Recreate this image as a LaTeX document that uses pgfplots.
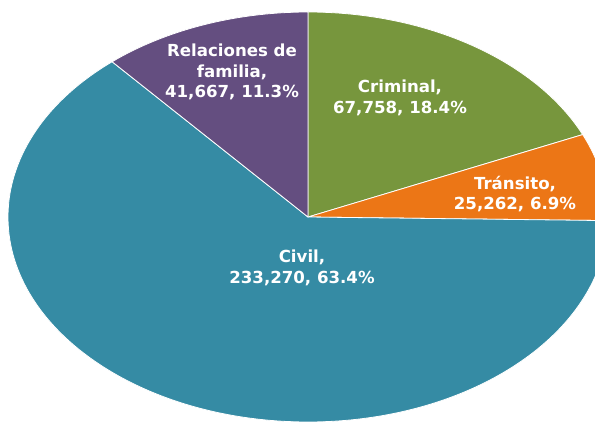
\documentclass[border=0pt]{standalone}
\usepackage{pgfplots}
\usepackage{pgfplotstable}
\usepackage{fontspec}
\setmainfont{DejaVu Sans}
\pgfplotsset{compat=1.18}
\definecolor{cFam}{RGB}{100,78,128}
\definecolor{cCrim}{RGB}{119,150,61}
\definecolor{cTran}{RGB}{236,118,22}
\definecolor{cCiv}{RGB}{53,139,164}
\pgfplotstableread{
label value
Criminal 67758
Transito 25262
Civil 233270
Familia 41667
}\piedata
\begin{document}
\begin{tikzpicture}
\pgfplotstablegetelem{0}{value}\of\piedata \edef\vA{\pgfplotsretval}
\pgfplotstablegetelem{1}{value}\of\piedata \edef\vB{\pgfplotsretval}
\pgfplotstablegetelem{2}{value}\of\piedata \edef\vC{\pgfplotsretval}
\pgfplotstablegetelem{3}{value}\of\piedata \edef\vD{\pgfplotsretval}
\edef\tot{\fpeval{\vA+\vB+\vC+\vD}}
\edef\aA{90}
\edef\aB{\fpeval{round(\aA-360*\vA/\tot,3)}}
\edef\aC{\fpeval{round(\aB-360*\vB/\tot,3)}}
\edef\aD{\fpeval{round(\aC-360*\vC/\tot,3)}}
\edef\aE{\fpeval{round(\aD-360*\vD/\tot,3)}}
\begin{axis}[
  hide axis, x=1pt, y=1pt, scale only axis,
  xmin=0, xmax=595, ymin=0, ymax=423,
  enlargelimits=false, clip=true,
]
\def\cx{308}\def\cy{206}\def\rx{300}\def\ry{205}
\fill[cCrim, draw=white, line width=0.8pt] (axis cs:\cx,\cy) -- ++({\rx*cos(\aA)}, {\ry*sin(\aA)}) arc[start angle=\aA, end angle=\aB, x radius=\rx, y radius=\ry] -- cycle;
\fill[cTran, draw=white, line width=0.8pt] (axis cs:\cx,\cy) -- ++({\rx*cos(\aB)}, {\ry*sin(\aB)}) arc[start angle=\aB, end angle=\aC, x radius=\rx, y radius=\ry] -- cycle;
\fill[cCiv, draw=white, line width=0.8pt] (axis cs:\cx,\cy) -- ++({\rx*cos(\aC)}, {\ry*sin(\aC)}) arc[start angle=\aC, end angle=\aD, x radius=\rx, y radius=\ry] -- cycle;
\fill[cFam, draw=white, line width=0.8pt] (axis cs:\cx,\cy) -- ++({\rx*cos(\aD)}, {\ry*sin(\aD)}) arc[start angle=\aD, end angle=\aE, x radius=\rx, y radius=\ry] -- cycle;
\tikzset{lbl/.style={text=white, align=center, font=\fontsize{16.6}{20.5}\selectfont\bfseries, inner sep=0pt}}
\node[lbl] at (axis cs:232,351) {Relaciones de\\familia,\\41,667, 11.3\%};
\node[lbl] at (axis cs:400,325) {Criminal,\\67,758, 18.4\%};
\node[lbl] at (axis cs:515,229) {Tránsito,\\25,262, 6.9\%};
\node[lbl] at (axis cs:302,155) {Civil,\\233,270, 63.4\%};
\end{axis}
\pgfresetboundingbox
\useasboundingbox (current axis.south west) rectangle (current axis.north east);
\end{tikzpicture}
\end{document}
